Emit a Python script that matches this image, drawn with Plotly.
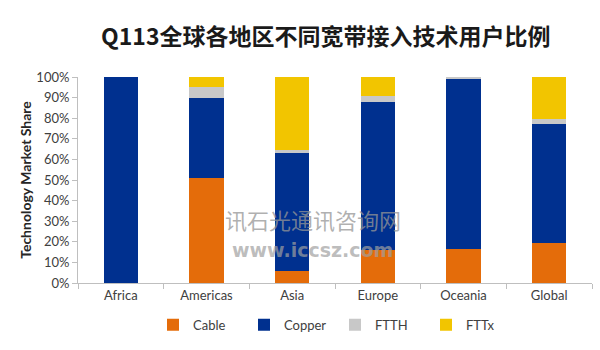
import plotly.graph_objects as go

# Broadband technology share by region, Q1 2013 (fractions of subscribers)
regions = ["Africa", "Americas", "Asia", "Europe", "Oceania", "Global"]
cable = [0.0, 0.51, 0.06, 0.16, 0.165, 0.195]
copper = [1.0, 0.39, 0.57, 0.72, 0.825, 0.575]
ftth = [0.0, 0.05, 0.015, 0.03, 0.01, 0.025]
fttx = [0.0, 0.05, 0.355, 0.09, 0.0, 0.205]

series_names = ["Cable", "Copper", "FTTH", "FTTx"]
series_values = [cable, copper, ftth, fttx]
series_colors = ["#E46C0A", "#00308F", "#C8C8C8", "#F2C500"]

y_ticks = [i / 10 for i in range(11)]
y_tick_text = [f"{i * 10}%" for i in range(11)]

fig = go.Figure()
for name, vals, color in zip(series_names, series_values, series_colors):
    fig.add_trace(go.Bar(
        x=regions, y=vals, name=name,
        marker=dict(color=color, line=dict(width=0)),
        width=0.4,
    ))

font_family = "Lato, 'Noto Sans', sans-serif"

fig.update_layout(
    barmode="stack",
    width=600, height=350,
    margin=dict(l=78, r=8, t=77, b=67, autoexpand=False),
    paper_bgcolor="white", plot_bgcolor="white",
    font=dict(family=font_family, size=13, color="#404040"),
    title=dict(
        text="<b>Q113全球各地区不同宽带接入技术用户比例</b>",
        x=0.543, xanchor="center", y=0.895, yanchor="middle",
        font=dict(family="'Noto Sans CJK SC', sans-serif", size=23, color="#1a1a1a"),
    ),
    xaxis=dict(
        showline=True, linecolor="#BFBFBF", linewidth=1,
        ticks="outside", tickson="boundaries", ticklen=5, tickcolor="#BFBFBF",
        showgrid=False, tickfont=dict(size=13, color="#404040"),
    ),
    yaxis=dict(
        range=[0, 1], tickvals=y_ticks, ticktext=y_tick_text,
        showline=True, linecolor="#BFBFBF", linewidth=1,
        ticks="outside", ticklen=5, tickcolor="#BFBFBF",
        showgrid=False, zeroline=False,
        tickfont=dict(size=13, color="#404040"),
        title=dict(text="<b>Technology Market Share</b>", standoff=1,
                   font=dict(size=14, color="#262626")),
    ),
    legend=dict(
        orientation="h", x=0.5, xanchor="center", y=-0.13, yanchor="top",
        font=dict(size=13, color="#404040"),
        itemwidth=30, entrywidth=46, entrywidthmode="pixels",
        traceorder="normal",
    ),
    bargap=0.6,
)

# Source watermark across the middle of the chart
fig.add_annotation(
    text="讯石光通讯咨询网", xref="paper", yref="paper", x=0.457, y=0.225,
    yanchor="bottom", showarrow=False,
    font=dict(family="'Noto Sans CJK SC', serif", size=22, color="rgba(150,150,150,0.75)"),
)
fig.add_annotation(
    text="<b>www.iccsz.com</b>", xref="paper", yref="paper", x=0.457, y=0.225,
    yanchor="top", showarrow=False,
    font=dict(family="'DejaVu Sans', sans-serif", size=19, color="rgba(160,160,160,0.7)"),
)

fig.write_html("out.html")
